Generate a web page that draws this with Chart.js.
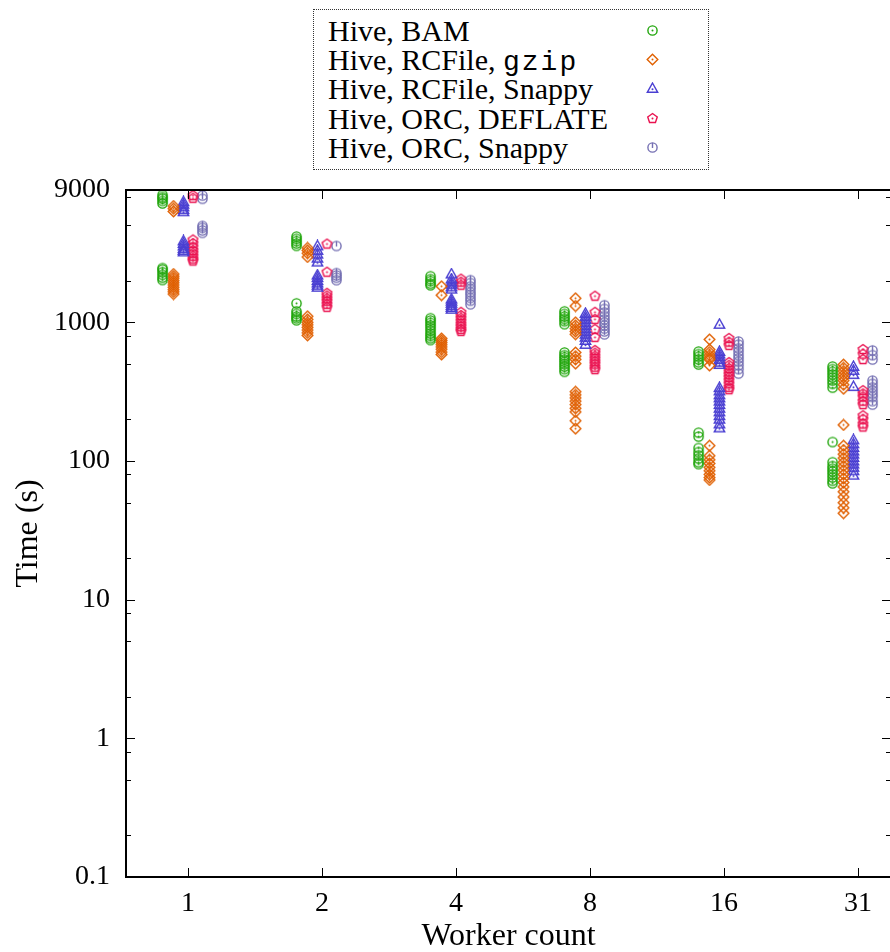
<!DOCTYPE html>
<html>
<head>
<meta charset="utf-8">
<script src="https://cdn.jsdelivr.net/npm/chart.js@4.4.1/dist/chart.umd.min.js"></script>
<style>
  body { margin: 0; background: #fff; overflow: hidden; }
  #wrap { position: relative; width: 890px; height: 952px; overflow: hidden; }
  #chart { position: absolute; left: 0; top: 0; }
  #legend { position: absolute; left: 313px; top: 9px; width: 394px; height: 159px;
            border: 1px dotted #333; background: #fff;
            font-family: "Liberation Serif", serif; font-size: 30px; color: #000; }
  .row { position: absolute; left: 14px; width: 375px; height: 29px; line-height: 29px; white-space: nowrap; }
  .row canvas { position: absolute; left: 318px; top: 8px; }
  .mono { font-family: "Liberation Mono", "DejaVu Sans Mono", monospace; font-size: 28px; letter-spacing: 2px; font-weight: normal; }
</style>
</head>
<body>
<div id="wrap">
  <canvas id="chart" width="900" height="952"></canvas>
  <div id="legend"></div>
</div>
<script>
// worker counts on the x axis
const categories = ['1', '2', '4', '8', '16', '31'];

// times in seconds, one list per worker count
const hiveBam = [
  [8300, 8000, 7800, 7500, 7200, 2460, 2400, 2300, 2200, 2100, 2020],
  [4150, 4000, 3850, 3700, 3560, 1370, 1200, 1150, 1100, 1070, 1035],
  [2150, 2050, 1980, 1900, 1850, 1070, 1030, 990, 950, 910, 870, 830, 800, 770, 745],
  [1200, 1150, 1100, 1060, 1020, 970, 606, 580, 560, 540, 520, 500, 480, 460, 440],
  [616, 590, 565, 540, 515, 496, 160, 150, 124, 116, 110, 104, 98, 95],
  [480, 460, 440, 420, 400, 380, 360, 338, 137, 98, 92, 88, 84, 80, 76, 72, 69]
];
const rcGzip = [
  [6900, 6600, 6300, 2230, 2150, 2080, 2000, 1930, 1860, 1790, 1720, 1660, 1600],
  [3440, 3300, 3150, 2960, 1105, 1050, 1000, 960, 920, 880, 840, 805],
  [1820, 1570, 766, 740, 715, 690, 665, 640, 610, 586],
  [1490, 1310, 1000, 950, 900, 860, 820, 606, 570, 540, 504, 316, 300, 285, 270, 255, 240, 226, 195, 171],
  [753, 637, 610, 580, 555, 539, 488, 129, 109, 102, 96, 90, 85, 80, 76, 73],
  [496, 470, 445, 420, 400, 380, 355, 332, 182, 129, 120, 112, 105, 98, 92, 86, 80, 75, 70, 65, 60, 55, 50, 46, 42]
];
const rcSnappy = [
  [7400, 7100, 6800, 6500, 6270, 3860, 3700, 3550, 3400, 3300, 3215],
  [3555, 3300, 3100, 2900, 2720, 2190, 2100, 2000, 1920, 1850, 1790],
  [2230, 2050, 1950, 1880, 1800, 1734, 1470, 1420, 1370, 1320, 1280, 1242],
  [1160, 1100, 1050, 1000, 950, 900, 860, 820, 780, 740, 693],
  [967, 616, 590, 565, 540, 515, 496, 338, 320, 300, 285, 270, 255, 240, 226, 212, 200, 185, 173],
  [480, 450, 420, 344, 142, 133, 125, 118, 112, 106, 100, 95, 90, 85, 79]
];
const orcDeflate = [
  [8200, 7850, 3930, 3700, 3500, 3300, 3150, 3000, 2860, 2770],
  [3670, 2300, 1620, 1550, 1480, 1420, 1350, 1284],
  [2050, 1950, 1854, 1181, 1120, 1070, 1020, 970, 930, 890, 861],
  [1545, 1181, 1051, 890, 779, 627, 600, 570, 545, 520, 500, 475, 456],
  [766, 720, 682, 513, 490, 465, 440, 420, 400, 380, 360, 340, 327],
  [637, 590, 539, 322, 305, 290, 270, 255, 212, 200, 185, 176]
];
const orcSnappy = [
  [8200, 7780, 4960, 4800, 4600, 4420],
  [3555, 2265, 2180, 2100, 2015],
  [2015, 1920, 1820, 1740, 1650, 1580, 1500, 1430, 1350],
  [1328, 1250, 1180, 1110, 1050, 1000, 950, 900, 860, 819],
  [728, 690, 650, 615, 580, 550, 520, 490, 460, 427],
  [627, 580, 539, 380, 360, 340, 322, 305, 290, 270, 255]
];

const seriesNames = ['Hive, BAM', 'Hive, RCFile, gzip', 'Hive, RCFile, Snappy', 'Hive, ORC, DEFLATE', 'Hive, ORC, Snappy'];
const seriesData = [hiveBam, rcGzip, rcSnappy, orcDeflate, orcSnappy];
const colors = ['#1fa50a', '#e06000', '#4a3fd2', '#ea1250', '#7570b3'];
const shapes = ['circle', 'diamond', 'triangle', 'pentagon', 'power'];
const shiftX = [-0.19, -0.108, -0.034, 0.037, 0.108];

const yMajor = [0.1, 1, 10, 100, 1000, 9000];
const yMinor = [0.2, 0.5, 0.8, 2, 5, 8, 20, 50, 80, 200, 500, 800, 2000, 5000, 8000];

function makeMarker(shape, color) {
  const c = document.createElement('canvas');
  c.width = 13; c.height = 13;
  const g = c.getContext('2d');
  const m = 6.5;
  g.strokeStyle = color; g.fillStyle = color; g.lineWidth = 1.4;
  g.beginPath();
  if (shape === 'circle' || shape === 'power') {
    g.arc(m, m, 4.6, 0, Math.PI * 2);
  } else if (shape === 'diamond') {
    g.moveTo(m, m - 5.3); g.lineTo(m + 5.3, m); g.lineTo(m, m + 5.3); g.lineTo(m - 5.3, m); g.closePath();
  } else if (shape === 'triangle') {
    g.moveTo(m, m - 5.5); g.lineTo(m + 5.2, m + 3.8); g.lineTo(m - 5.2, m + 3.8); g.closePath();
  } else {
    for (let k = 0; k < 5; k++) {
      const a = -Math.PI / 2 + k * 2 * Math.PI / 5;
      const px = m + 5 * Math.cos(a), py = m + 5 * Math.sin(a);
      if (k === 0) g.moveTo(px, py); else g.lineTo(px, py);
    }
    g.closePath();
  }
  g.stroke();
  if (shape === 'power') {
    g.beginPath(); g.moveTo(m, m - 4.6); g.lineTo(m, m + 0.5); g.stroke();
  } else {
    g.beginPath(); g.arc(m, m + (shape === 'triangle' ? 0.8 : 0), 1, 0, Math.PI * 2); g.fill();
  }
  return c;
}

const markers = shapes.map((s, i) => makeMarker(s, colors[i]));

const datasets = seriesNames.map((name, s) => {
  const pts = [];
  seriesData[s].forEach((vals, i) => vals.forEach(v => pts.push({ x: i + shiftX[s], y: v })));
  return { label: name, data: pts, pointStyle: markers[s], pointRadius: 6, borderColor: colors[s], backgroundColor: colors[s] };
});

// legend
const legend = document.getElementById('legend');
seriesNames.forEach((name, s) => {
  const row = document.createElement('div');
  row.className = 'row';
  row.style.top = (6 + s * 29.2) + 'px';
  if (name.endsWith('gzip')) {
    row.innerHTML = 'Hive, RCFile, <span class="mono">gzip</span>';
  } else {
    row.textContent = name;
  }
  row.appendChild(makeMarker(shapes[s], colors[s]));
  legend.appendChild(row);
});

const frame = {
  id: 'frame',
  afterDatasetsDraw(chart) {
    const { ctx, chartArea: a, scales: { x, y } } = chart;
    ctx.save();
    ctx.strokeStyle = '#000';
    ctx.lineWidth = 1;
    ctx.beginPath();
    yMajor.forEach(v => {
      const p = Math.round(y.getPixelForValue(v)) + 0.5;
      ctx.moveTo(a.left, p); ctx.lineTo(a.left + 9, p);
      ctx.moveTo(a.right, p); ctx.lineTo(a.right - 9, p);
    });
    yMinor.forEach(v => {
      const p = Math.round(y.getPixelForValue(v)) + 0.5;
      ctx.moveTo(a.left, p); ctx.lineTo(a.left + 5, p);
      ctx.moveTo(a.right, p); ctx.lineTo(a.right - 5, p);
    });
    categories.forEach((c, i) => {
      const p = Math.round(x.getPixelForValue(i)) + 0.5;
      ctx.moveTo(p, a.bottom); ctx.lineTo(p, a.bottom - 9);
      ctx.moveTo(p, a.top); ctx.lineTo(p, a.top + 9);
    });
    ctx.stroke();
    ctx.lineWidth = 2;
    ctx.strokeRect(a.left, a.top, a.right - a.left, a.bottom - a.top);
    ctx.restore();
  }
};

const serif = 'Liberation Serif';

new Chart(document.getElementById('chart').getContext('2d'), {
  type: 'scatter',
  data: { datasets: datasets },
  options: {
    responsive: false,
    animation: false,
    devicePixelRatio: 1,
    layout: { padding: { top: 190, right: 9, left: 0, bottom: 0 } },
    plugins: { legend: { display: false }, tooltip: { enabled: false } },
    scales: {
      x: {
        type: 'linear',
        min: -0.4627,
        max: 5.246,
        grid: { display: false, drawTicks: false },
        border: { display: false },
        afterBuildTicks: s => { s.ticks = categories.map((c, i) => ({ value: i })); },
        afterFit: s => { s.height = 75; },
        ticks: {
          color: '#000',
          padding: 10,
          maxRotation: 0,
          font: { family: serif, size: 28 },
          callback: v => categories[v]
        },
        title: {
          display: true,
          text: 'Worker count',
          color: '#000',
          font: { family: serif, size: 32 },
          padding: { top: 0, bottom: -4 }
        }
      },
      y: {
        type: 'logarithmic',
        min: 0.1,
        max: 9000,
        grid: { display: false, drawTicks: false },
        border: { display: false },
        afterBuildTicks: s => { s.ticks = yMajor.map(v => ({ value: v })); },
        afterFit: s => { s.width = 126; },
        ticks: {
          color: '#000',
          padding: 16,
          font: { family: serif, size: 28 },
          callback: v => String(v)
        },
        title: {
          display: true,
          text: 'Time (s)',
          color: '#000',
          font: { family: serif, size: 32 },
          padding: { top: 9, bottom: 0 }
        }
      }
    }
  },
  plugins: [frame]
});
</script>
</body>
</html>
